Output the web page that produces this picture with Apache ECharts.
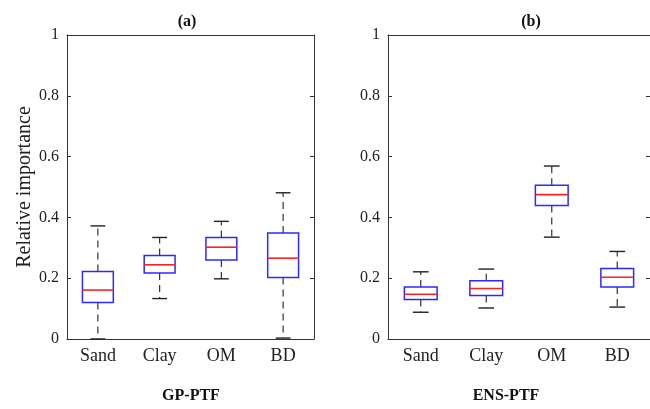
<!DOCTYPE html>
<html style="height: 100%">
<head>
  <meta charset="utf-8">
  <script src="https://cdn.jsdelivr.net/npm/echarts@6/dist/echarts.min.js"></script>
</head>
<body style="height: 100%; margin: 0; background: #fff">
  <div id="main" style="width: 650px; height: 409px"></div>
<script>
// box statistics per variable: [lower whisker, Q1, median, Q3, upper whisker]
var categories = ['Sand', 'Clay', 'OM', 'BD'];
var gpStats = [
  [0.000, 0.120, 0.161, 0.222, 0.372],
  [0.133, 0.217, 0.244, 0.275, 0.334],
  [0.198, 0.260, 0.302, 0.334, 0.387],
  [0.003, 0.202, 0.266, 0.349, 0.481]
];
var ensStats = [
  [0.088, 0.130, 0.147, 0.171, 0.221],
  [0.102, 0.143, 0.166, 0.192, 0.230],
  [0.335, 0.439, 0.475, 0.506, 0.569],
  [0.105, 0.171, 0.203, 0.232, 0.288]
];
var yTicks = [0, 0.2, 0.4, 0.6, 0.8, 1];

var font = 'Liberation Serif';
var axisCol = '#333';

function toData(stats) {
  return stats.map(function (s, i) { return [i].concat(s); });
}

function renderBox(params, api) {
  var idx = api.value(0);
  var lo = api.coord([idx, api.value(1)]);
  var q1 = api.coord([idx, api.value(2)]);
  var md = api.coord([idx, api.value(3)]);
  var q3 = api.coord([idx, api.value(4)]);
  var hi = api.coord([idx, api.value(5)]);
  var bw = api.size([1, 0])[0];
  var half = bw * 0.25, cap = bw * 0.12;
  var x = md[0];
  var dash = { stroke: '#333', lineWidth: 1.2, lineDash: [7, 5] };
  var solid = { stroke: '#222', lineWidth: 1.4 };
  return {
    type: 'group',
    children: [
      { type: 'line', shape: { x1: x, y1: q3[1], x2: x, y2: hi[1] }, style: dash },
      { type: 'line', shape: { x1: x, y1: q1[1], x2: x, y2: lo[1] }, style: dash },
      { type: 'line', shape: { x1: x - cap, y1: hi[1], x2: x + cap, y2: hi[1] }, style: solid },
      { type: 'line', shape: { x1: x - cap, y1: lo[1], x2: x + cap, y2: lo[1] }, style: solid },
      { type: 'rect', shape: { x: x - half, y: q3[1], width: half * 2, height: q1[1] - q3[1] },
        style: { fill: '#fff', stroke: '#2a2aff', lineWidth: 1.5 } },
      { type: 'line', shape: { x1: x - half, y1: md[1], x2: x + half, y2: md[1] },
        style: { stroke: '#ff2020', lineWidth: 1.6 } }
    ]
  };
}

function xAxes(gi) {
  return [
    { type: 'category', gridIndex: gi, data: categories, position: 'bottom',
      axisLine: { onZero: false, lineStyle: { color: axisCol } },
      axisTick: { inside: true, alignWithLabel: true, length: 4, lineStyle: { color: axisCol } },
      axisLabel: { fontFamily: font, fontSize: 18, color: '#222', margin: 8 } },
    { type: 'category', gridIndex: gi, data: categories, position: 'top',
      axisLine: { onZero: false, lineStyle: { color: axisCol } },
      axisTick: { inside: true, alignWithLabel: true, length: 4, lineStyle: { color: axisCol } },
      axisLabel: { show: false } }
  ];
}

function yAxes(gi, name) {
  return [
    { type: 'value', gridIndex: gi, min: 0, max: 1, interval: 0.2, position: 'left',
      name: name, nameLocation: 'middle', nameGap: 32,
      nameTextStyle: { fontFamily: font, fontSize: 20, color: '#222' },
      splitLine: { show: false },
      axisLine: { show: true, onZero: false, lineStyle: { color: axisCol } },
      axisTick: { show: true, inside: true, length: 4, lineStyle: { color: axisCol } },
      axisLabel: { fontFamily: font, fontSize: 16, color: '#222', margin: 8,
        formatter: function (v) { return yTicks.indexOf(v) >= 0 ? String(v) : ''; } } },
    { type: 'value', gridIndex: gi, min: 0, max: 1, interval: 0.2, position: 'right',
      splitLine: { show: false },
      axisLine: { show: true, onZero: false, lineStyle: { color: axisCol } },
      axisTick: { show: true, inside: true, length: 4, lineStyle: { color: axisCol } },
      axisLabel: { show: false } }
  ];
}

var chart = echarts.init(document.getElementById('main'));
var titleStyle = { fontFamily: font, fontSize: 16, fontWeight: 'bold', color: '#111' };
var option = {
  animation: false,
  title: [
    { text: '(a)', left: 182, top: 9, textAlign: 'center', textStyle: titleStyle },
    { text: '(b)', left: 526, top: 9, textAlign: 'center', textStyle: titleStyle },
    { text: 'GP-PTF', left: 186, top: 383, textAlign: 'center', textStyle: titleStyle },
    { text: 'ENS-PTF', left: 501, top: 383, textAlign: 'center', textStyle: titleStyle }
  ],
  grid: [
    { left: 67, top: 35, width: 247, height: 304 },
    { left: 388, top: 35, width: 272, height: 304 }
  ],
  xAxis: xAxes(0).concat(xAxes(1)),
  yAxis: yAxes(0, 'Relative importance').concat(yAxes(1, '')),
  series: [
    { type: 'custom', xAxisIndex: 0, yAxisIndex: 0, renderItem: renderBox,
      encode: { x: 0, y: [1, 2, 3, 4, 5] }, data: toData(gpStats) },
    { type: 'custom', xAxisIndex: 2, yAxisIndex: 2, renderItem: renderBox,
      encode: { x: 0, y: [1, 2, 3, 4, 5] }, data: toData(ensStats) }
  ]
};
chart.setOption(option);
</script>
</body>
</html>
